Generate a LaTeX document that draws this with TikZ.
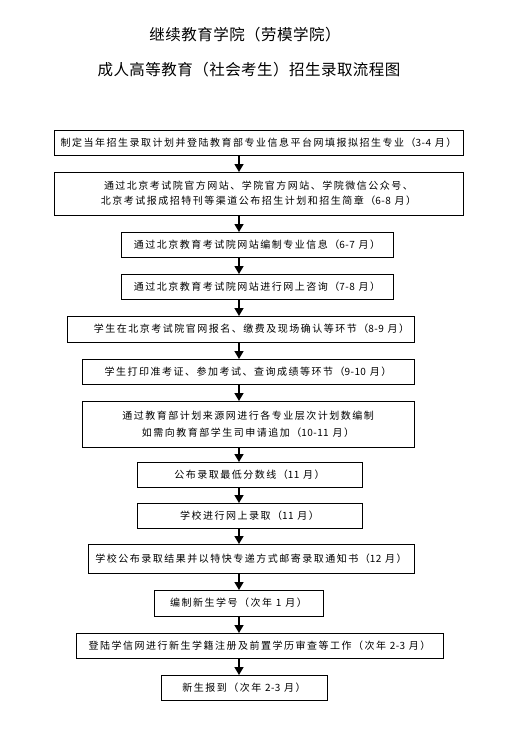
\documentclass[tikz,border=0pt]{standalone}
\usepackage{fontspec}
\setmainfont{Noto Sans CJK SC}
\newfontfamily\boxfont[LetterSpace=15]{Noto Sans CJK SC}
\newfontfamily\titlefont[LetterSpace=3]{Noto Sans CJK SC}
\newcommand\dg[1]{{\addfontfeature{LetterSpace=4}#1}}
\usetikzlibrary{arrows.meta}
\tikzset{
  stepbox/.style={draw=black, line width=0.9pt, inner sep=0pt, outer sep=0pt, align=center,
    font=\boxfont\fontsize{10}{15}\selectfont},
  titletext/.style={font=\titlefont\fontsize{15.5}{18}\selectfont, inner sep=0pt},
  arr/.style={line width=1.4pt, -{Triangle[width=9pt,length=8pt]}}
}
\begin{document}
\begin{tikzpicture}[x=1pt,y=-1pt]
\useasboundingbox[fill=white] (0,0) rectangle (525,739);
\node[titletext] (t1) at (245,35) {继续教育学院（劳模学院）};
\node[titletext] (t2) at (249,70) {成人高等教育（社会考生）招生录取流程图};
\coordinate (ax) at (239,0);
\node[stepbox, minimum width=409pt, minimum height=25pt] (b1) at (258.5,142.5) {制定当年招生录取计划并登陆教育部专业信息平台网填报拟招生专业（\dg{3-4} 月）};
\node[stepbox, minimum width=409pt, minimum height=43pt] (b2) at (258.5,193.5) {通过北京考试院官方网站、学院官方网站、学院微信公众号、\\北京考试报成招特刊等渠道公布招生计划和招生简章（\dg{6-8} 月）};
\node[stepbox, minimum width=272pt, minimum height=25pt] (b3) at (257,244.5) {通过北京教育考试院网站编制专业信息（\dg{6-7} 月）};
\node[stepbox, minimum width=272pt, minimum height=25pt] (b4) at (257,286.5) {通过北京教育考试院网站进行网上咨询（\dg{7-8} 月）};
\node[stepbox, minimum width=347pt, minimum height=26pt] (b5) at (240.5,329) {\hspace*{22pt}学生在北京考试院官网报名、缴费及现场确认等环节（\dg{8-9} 月）};
\node[stepbox, minimum width=332pt, minimum height=25pt] (b6) at (248,371.5) {学生打印准考证、参加考试、查询成绩等环节（\dg{9-10} 月）};
\node[stepbox, minimum width=332pt, minimum height=46pt, font=\boxfont\fontsize{10}{17}\selectfont] (b7) at (248,424) {通过教育部计划来源网进行各专业层次计划数编制\\如需向教育部学生司申请追加（\dg{10-11} 月）};
\node[stepbox, minimum width=225pt, minimum height=25pt] (b8) at (249.5,474.5) {公布录取最低分数线（\dg{11} 月）};
\node[stepbox, minimum width=225pt, minimum height=25pt] (b9) at (249.5,515.5) {学校进行网上录取（\dg{11} 月）};
\node[stepbox, minimum width=326pt, minimum height=29pt] (b10) at (251,558.5) {学校公布录取结果并以特快专递方式邮寄录取通知书（\dg{12} 月）};
\node[stepbox, minimum width=169pt, minimum height=26pt] (b11) at (238.5,603) {编制新生学号（次年 \dg{1} 月）};
\node[stepbox, minimum width=367pt, minimum height=25pt] (b12) at (259.5,645.5) {登陆学信网进行新生学籍注册及前置学历审查等工作（次年 \dg{2-3} 月）};
\node[stepbox, minimum width=166pt, minimum height=25pt] (b13) at (244,687.5) {新生报到（次年 \dg{2-3} 月）};
\foreach \a/\b in {b1/b2,b2/b3,b3/b4,b4/b5,b5/b6,b6/b7,b7/b8,b8/b9,b9/b10,b10/b11,b11/b12,b12/b13}
  \draw[arr] (\a.south -| ax) -- (\b.north -| ax);
\end{tikzpicture}
\end{document}
